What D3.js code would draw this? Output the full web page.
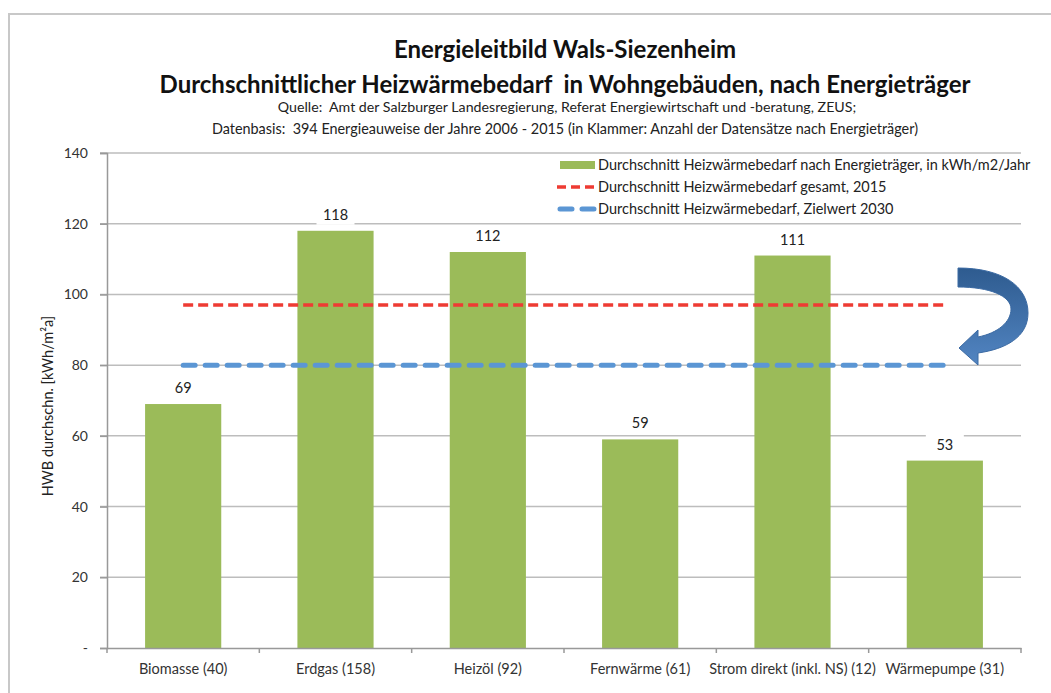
<!DOCTYPE html>
<html>
<head>
<meta charset="utf-8">
<script src="https://d3js.org/d3.v7.min.js"></script>
<style>
  body { margin: 0; background: #fff; }
  svg { display: block; font-family: Lato, "Open Sans", sans-serif; }
  text { white-space: pre; }
</style>
</head>
<body>
<svg id="canvas" width="1051" height="693"></svg>
<script>
let categories = ['Biomasse (40)', 'Erdgas (158)', 'Heizöl (92)', 'Fernwärme (61)', 'Strom direkt (inkl. NS) (12)', 'Wärmepumpe (31)'];
let values = [69, 118, 112, 59, 111, 53];
let total2015 = [97, 97, 97, 97, 97, 97];
let target2030 = [80, 80, 80, 80, 80, 80];
let yTicks = [0, 20, 40, 60, 80, 100, 120, 140];
let legendLabels = [
    'Durchschnitt Heizwärmebedarf nach Energieträger, in kWh/m2/Jahr',
    'Durchschnitt Heizwärmebedarf gesamt, 2015',
    'Durchschnitt Heizwärmebedarf, Zielwert 2030'
];

let canvas = d3.select('#canvas');

let plotLeft = 107, plotRight = 1021, plotTop = 153, plotBottom = 648;

let xScale = d3.scaleBand().domain(categories).range([plotLeft, plotRight]).paddingInner(0.5).paddingOuter(0.25);
let yScale = d3.scaleLinear().domain([0, 140]).range([plotBottom, plotTop]);

// outer frame
canvas.append('rect')
    .attr('x', 9).attr('y', 14).attr('width', 1100).attr('height', 700)
    .attr('fill', 'none').attr('stroke', '#c8c8c8').attr('stroke-width', 2);

// titles
let titles = canvas.append('g').attr('text-anchor', 'middle').attr('fill', '#111');
titles.append('text').attr('x', 565).attr('y', 58).attr('font-size', 24).attr('font-weight', 'bold')
    .text('Energieleitbild Wals-Siezenheim');
titles.append('text').attr('x', 565).attr('y', 93).attr('font-size', 24).attr('font-weight', 'bold')
    .text('Durchschnittlicher Heizwärmebedarf  in Wohngebäuden, nach Energieträger');
titles.append('text').attr('x', 567).attr('y', 112).attr('font-size', 14.2).attr('fill', '#222')
    .text('Quelle:  Amt der Salzburger Landesregierung, Referat Energiewirtschaft und -beratung, ZEUS;');
titles.append('text').attr('x', 565).attr('y', 134).attr('font-size', 14.4).attr('fill', '#222')
    .text('Datenbasis:  394 Energieauweise der Jahre 2006 - 2015 (in Klammer: Anzahl der Datensätze nach Energieträger)');

// gridlines
canvas.append('g')
    .selectAll('line')
    .data(yTicks.filter((d) => d > 0))
    .enter()
    .append('line')
    .attr('x1', plotLeft - 7).attr('x2', plotRight)
    .attr('y1', (d) => yScale(d)).attr('y2', (d) => yScale(d))
    .attr('stroke', '#bdbdbd').attr('stroke-width', 1.5);

// y axis
let yAxis = d3.axisLeft(yScale)
    .tickValues(yTicks)
    .tickSize(7)
    .tickPadding(12)
    .tickFormat((d) => d === 0 ? '-' : d);
let yAxisGroup = canvas.append('g').attr('transform', 'translate(' + plotLeft + ',0)').call(yAxis);
yAxisGroup.select('.domain').attr('stroke', '#999').attr('stroke-width', 1.5);
yAxisGroup.selectAll('.tick line').attr('stroke', '#999').attr('stroke-width', 1.5);
yAxisGroup.selectAll('text').attr('font-size', 14).attr('fill', '#333').attr('font-family', 'Lato');

canvas.append('text')
    .attr('transform', 'translate(53,406) rotate(-90)')
    .attr('text-anchor', 'middle')
    .attr('font-size', 14.5).attr('fill', '#222')
    .text('HWB durchschn. [kWh/m²a]');

// bars
canvas.append('g')
    .selectAll('rect')
    .data(values)
    .enter()
    .append('rect')
    .attr('x', (d, i) => xScale(categories[i]))
    .attr('y', (d) => yScale(d))
    .attr('width', xScale.bandwidth())
    .attr('height', (d) => plotBottom - yScale(d))
    .attr('fill', '#9bbb59');

// x axis
let xAxis = d3.axisBottom(xScale).tickSize(0).tickPadding(16);
let xAxisGroup = canvas.append('g').attr('transform', 'translate(0,' + plotBottom + ')').call(xAxis);
xAxisGroup.select('.domain').attr('stroke', '#999').attr('stroke-width', 1.5);
xAxisGroup.selectAll('text').attr('font-size', 14.5).attr('fill', '#333').attr('font-family', 'Lato');
// category separator ticks
xAxisGroup.selectAll('.sep')
    .data(d3.range(categories.length + 1))
    .enter()
    .append('line')
    .attr('x1', (i) => plotLeft + i * xScale.step())
    .attr('x2', (i) => plotLeft + i * xScale.step())
    .attr('y1', 0).attr('y2', 5)
    .attr('stroke', '#999').attr('stroke-width', 1.5);

// lines
let lineGen = d3.line()
    .x((d, i) => xScale(categories[i]) + xScale.bandwidth() / 2)
    .y((d) => yScale(d));

canvas.append('path')
    .attr('d', lineGen(total2015))
    .attr('fill', 'none').attr('stroke', '#ee3b33').attr('stroke-width', 3.5)
    .attr('stroke-dasharray', '10,5');

canvas.append('path')
    .attr('d', lineGen(target2030))
    .attr('fill', 'none').attr('stroke', '#5b96d4').attr('stroke-width', 5)
    .attr('stroke-linecap', 'round')
    .attr('stroke-dasharray', '12,10');

// data labels with white background
let labels = canvas.append('g')
    .selectAll('g')
    .data(values)
    .enter()
    .append('g')
    .attr('transform', (d, i) => 'translate(' + (xScale(categories[i]) + xScale.bandwidth() / 2) + ',' + (yScale(d) - 16) + ')');
labels.append('rect')
    .attr('x', -19).attr('y', -10).attr('width', 38).attr('height', 20)
    .attr('fill', '#fff');
labels.append('text')
    .attr('text-anchor', 'middle').attr('dy', '0.35em')
    .attr('font-size', 14.5).attr('fill', '#222')
    .text((d) => d);

// legend
let legend = canvas.append('g');
legend.append('rect')
    .attr('x', 548).attr('y', 156).attr('width', 495).attr('height', 64)
    .attr('fill', '#fff');
let legendRows = legend.selectAll('g')
    .data(legendLabels)
    .enter()
    .append('g')
    .attr('transform', (d, i) => 'translate(0,' + (165 + i * 22) + ')');
legendRows.append('text')
    .attr('x', 598).attr('dy', '0.35em')
    .attr('font-size', 14.5).attr('fill', '#222')
    .text((d) => d);
legendRows.filter((d, i) => i === 0).append('rect')
    .attr('x', 560).attr('y', -4).attr('width', 35).attr('height', 8).attr('fill', '#9bbb59');
legendRows.filter((d, i) => i === 1).append('line')
    .attr('x1', 557).attr('x2', 597).attr('stroke', '#ee3b33').attr('stroke-width', 3.5)
    .attr('stroke-dasharray', '9,5');
legendRows.filter((d, i) => i === 2).append('line')
    .attr('x1', 560).attr('x2', 594).attr('stroke', '#5b96d4').attr('stroke-width', 5)
    .attr('stroke-linecap', 'round').attr('stroke-dasharray', '12,10');

// curved arrow
let defs = canvas.append('defs');
let grad = defs.append('linearGradient').attr('id', 'arrowGrad')
    .attr('x1', 0).attr('y1', 0).attr('x2', 0).attr('y2', 1);
grad.append('stop').attr('offset', '0%').attr('stop-color', '#2e5b8f');
grad.append('stop').attr('offset', '100%').attr('stop-color', '#5285c2');

canvas.append('path')
    .attr('d', 'M958,268 C1002,268 1028,286 1028,313 C1028,337 1006,349 978,353 L978,365 L959,348 L978,330 L978,337 C998,333 1011,322 1011,309 C1011,296 990,287 958,287 Z')
    .attr('fill', 'url(#arrowGrad)')
    .attr('stroke', '#3b6aa3').attr('stroke-width', 1);
</script>
</body>
</html>
